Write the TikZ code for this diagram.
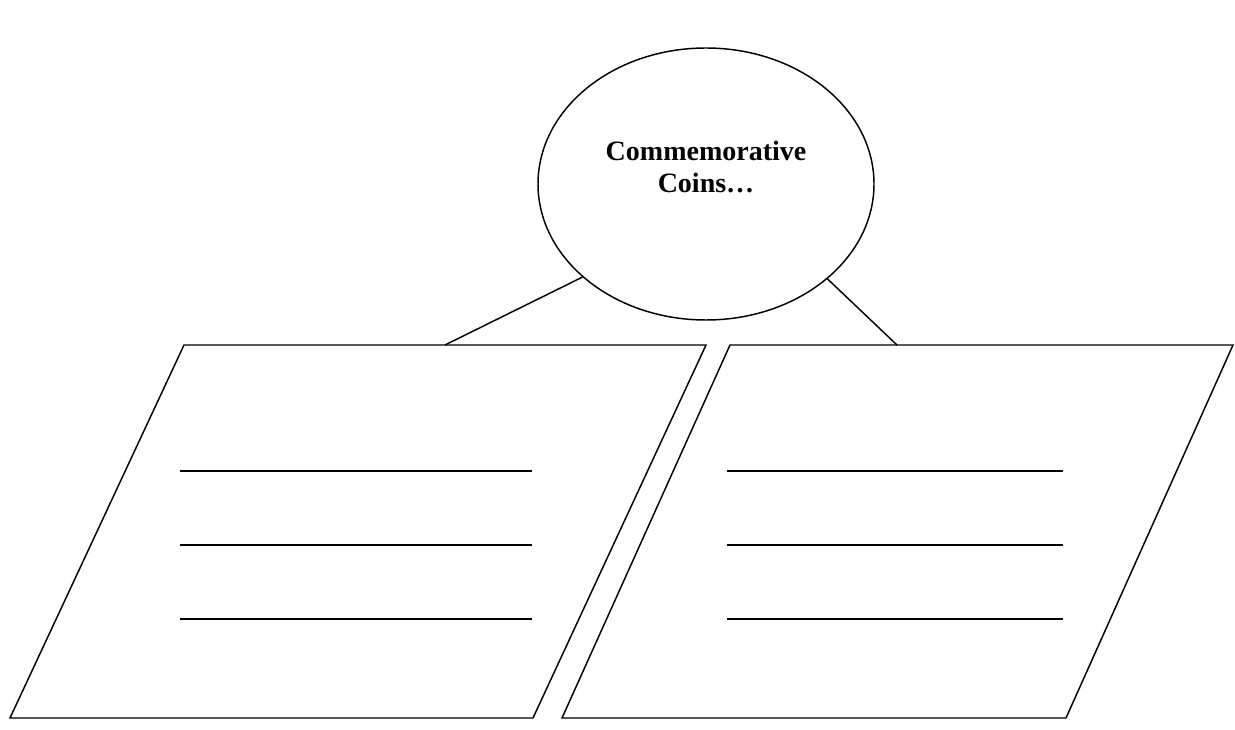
\documentclass[tikz,border=0pt]{standalone}
\usepackage{fontspec}
\setmainfont{Liberation Serif}
\usetikzlibrary{shapes.geometric}
\tikzset{
  px/.style={x=0.75pt,y=-0.75pt},
  shapeline/.style={draw=black,line width=1.1pt,line join=miter},
  blank/.style={draw=black,line width=0.9pt},
  bubble/.style={ellipse,draw=black,line width=1.1pt,minimum width=252pt,minimum height=204pt,inner sep=0pt},
  titletext/.style={font=\bfseries\fontsize{21}{23.3}\selectfont,align=center,inner sep=0pt}
}
\begin{document}
\begin{tikzpicture}[px]
\useasboundingbox (0,0) rectangle (1235,730);
% central ellipse
\node[bubble] (coin) at (706,184) {};
\node[titletext] (title) at (706,167) {Commemorative\\Coins…};
% parallelograms
\draw[shapeline] (184,345) -- (706,345) -- (533,718) -- (10,718) -- cycle;
\draw[shapeline] (730,345) -- (1233,345) -- (1066,718) -- (562,718) -- cycle;
\coordinate (lefttop) at (445,345);
\coordinate (righttop) at (897,345);
% connectors
\draw[shapeline] (coin.217.3) -- (lefttop);
\draw[shapeline] (coin.322.6) -- (righttop);
% blank lines
\foreach \y in {471,545,619}{
  \coordinate (la\y) at (180,\y);
  \coordinate (lb\y) at (532,\y);
  \coordinate (ra\y) at (727,\y);
  \coordinate (rb\y) at (1063,\y);
  \draw[blank] (la\y) -- (lb\y);
  \draw[blank] (ra\y) -- (rb\y);
}
\end{tikzpicture}
\end{document}
